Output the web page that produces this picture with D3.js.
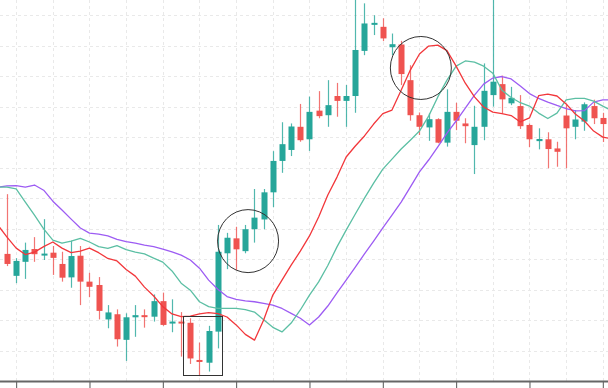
<!DOCTYPE html>
<html>
<head>
<meta charset="utf-8">
<script src="https://cdn.jsdelivr.net/npm/d3@7"></script>
<style>
  body { margin: 0; background: #fff; }
  svg { display: block; }
</style>
</head>
<body>
<div id="chart"></div>
<script>
// candles, one per bar
var open = [41.7, 34.5, 39.1, 43.3, 41.3, 42.1, 38.4, 34.0, 41.1, 32.6,
    31.5, 20.2, 21.9, 13.5, 20.9, 21.6, 21.1, 26.2, 18.9, 19.5,
    19.1, 6.9, 6.0, 16.2, 41.9, 46.8, 42.6, 49.8, 53.0, 61.9,
    72.2, 75.8, 83.4, 79.3, 88.7, 87.2, 93.5, 91.9, 93.5, 108.3,
    117.1, 116.2, 109.5, 110.4, 98.7, 87.2, 83.2, 85.9, 78.2, 88.3,
    84.5, 77.4, 83.4, 93.8, 97.4, 91.1, 90.2, 84.0, 78.7, 79.3,
    76.3, 87.1, 83.4, 85.1, 90.2, 86.3]
var high = [61.3, 40.3, 45.4, 47.2, 53.1, 44.3, 42.4, 46.0, 44.3, 35.5,
    34.1, 24.9, 23.5, 22.2, 24.9, 23.5, 28.4, 29.0, 26.8, 22.6,
    20.6, 12.6, 18.1, 51.2, 48.6, 50.6, 51.2, 63.0, 63.0, 75.4,
    84.9, 84.5, 90.9, 93.3, 95.1, 98.7, 97.8, 97.1, 126.0, 123.9,
    120.0, 119.0, 114.0, 111.6, 103.6, 88.1, 87.8, 86.2, 95.7, 91.3,
    86.2, 90.3, 104.2, 125.0, 100.2, 96.5, 93.8, 84.5, 82.9, 81.6,
    78.5, 90.9, 88.9, 91.4, 92.3, 88.0]
var low = [37.7, 32.1, 33.5, 39.1, 39.7, 34.8, 32.6, 30.6, 24.9, 27.5,
    20.2, 17.3, 11.3, 6.6, 14.5, 17.5, 19.5, 18.1, 16.0, 8.0,
    5.6, 1.6, 3.1, 10.7, 36.7, 36.4, 41.9, 45.4, 49.8, 57.0,
    68.3, 73.8, 78.5, 75.5, 86.2, 83.4, 86.7, 83.4, 88.0, 106.9,
    113.5, 111.5, 106.9, 97.1, 85.4, 80.7, 78.8, 78.0, 76.9, 82.3,
    78.0, 67.9, 79.0, 90.0, 87.8, 90.5, 82.7, 76.7, 76.0, 69.8,
    70.3, 69.8, 79.3, 82.1, 84.3, 78.4]
var close = [38.4, 39.4, 43.0, 41.6, 41.8, 40.4, 33.9, 41.0, 32.6, 30.9,
    23.0, 22.5, 13.7, 20.9, 21.6, 21.1, 26.2, 18.4, 19.5, 18.9,
    7.4, 6.3, 16.4, 42.4, 47.0, 43.2, 49.8, 53.6, 61.9, 72.2,
    77.7, 83.5, 79.0, 88.3, 86.9, 90.5, 91.9, 93.5, 108.6, 117.3,
    117.5, 112.4, 110.5, 100.7, 87.2, 83.4, 85.9, 78.2, 88.3, 85.4,
    83.6, 83.4, 95.2, 98.2, 92.4, 92.9, 83.6, 79.3, 79.4, 76.1,
    75.2, 82.9, 85.8, 90.8, 86.2, 84.3]

// moving averages, bar -1 .. bar 66 (they run off both edges)
var redLine = [51.2, 47.2, 43.6, 41.5, 42.3, 44.1, 45.6, 43.6, 42.1, 42.6,
    43.6, 42.1, 40.2, 39.4, 36.6, 34.4, 30.8, 27.9, 24.4, 22.0,
    21.1, 21.3, 22.0, 22.4, 22.1, 21.0, 18.4, 15.3, 13.4, 20.0,
    28.2, 33.1, 38.0, 42.6, 47.6, 53.8, 61.0, 66.9, 73.5, 77.1,
    80.4, 84.3, 87.7, 88.9, 95.4, 102.0, 107.3, 109.9, 110.2, 108.4,
    103.3, 97.7, 93.2, 89.9, 88.2, 87.7, 87.1, 85.0, 86.3, 93.6,
    94.1, 93.5, 90.9, 87.6, 85.3, 82.0, 80.0, 79.4]
var tealLine = [63.6, 63.6, 63.0, 58.7, 54.4, 49.9, 46.2, 45.2, 45.9, 46.8,
    45.6, 44.1, 43.5, 44.4, 43.1, 42.3, 41.7, 40.3, 39.0, 36.1,
    32.1, 29.8, 26.0, 24.4, 23.8, 23.8, 23.8, 23.4, 22.6, 20.1,
    17.6, 16.1, 19.0, 23.3, 28.2, 32.5, 37.9, 44.0, 49.5, 54.8,
    60.0, 64.9, 69.5, 72.8, 76.1, 79.0, 82.0, 86.9, 93.2, 98.7,
    103.3, 105.0, 104.6, 103.3, 101.0, 95.4, 93.0, 91.3, 90.2, 87.9,
    86.1, 87.9, 92.2, 92.7, 92.7, 91.8, 90.2, 88.6]
var purpleLine = [63.6, 64.0, 64.1, 63.6, 64.3, 62.6, 59.0, 56.1, 53.1, 50.2,
    48.5, 48.2, 47.6, 46.5, 45.7, 45.2, 44.6, 44.1, 43.3, 42.4,
    41.3, 39.7, 37.0, 33.1, 30.1, 27.7, 26.8, 26.3, 26.0, 25.5,
    24.9, 23.8, 22.2, 20.6, 18.4, 21.0, 24.6, 28.9, 33.1, 37.4,
    41.7, 45.9, 50.2, 54.4, 58.7, 63.6, 68.6, 72.5, 76.8, 81.3,
    85.3, 89.5, 93.8, 97.4, 99.4, 99.9, 99.1, 96.8, 94.3, 92.7,
    91.5, 90.4, 89.4, 88.6, 88.7, 91.5, 92.2, 92.2]

// annotations in bar / price units: [bar, price]
var circles = [[26.3, 45.9], [45.15, 102.7]]
var boxes = [[19.2, 23.5, 21.3, 2.0]]  // bar from, bar to, price top, price bottom

var width = 608, height = 388, plotBottom = 381;
var up = "#26a69a", down = "#ef5350";

var svg = d3.select("#chart")
    .append("svg")
    .attr("width", width)
    .attr("height", height);

svg.append("defs").append("clipPath")
    .attr("id", "plot")
    .append("rect")
    .attr("width", width)
    .attr("height", plotBottom);

// bar index -> x
var x = d3.scaleLinear()
    .domain([0, 65])
    .range([7, 602.8]);

// price -> y
var y = d3.scaleLinear()
    .domain([0, 125])
    .range([plotBottom, 0]);

// dashed grid
var grid = svg.append("g")
    .attr("stroke", "#e9e9e9")
    .attr("stroke-dasharray", "3,3");

grid.selectAll("hgrid")
    .data(d3.range(10, 121, 10))
    .enter()
    .append("line")
    .attr("x1", 0)
    .attr("x2", width)
    .attr("y1", function(d) { return Math.round(y(d)) + 0.5; })
    .attr("y2", function(d) { return Math.round(y(d)) + 0.5; })

grid.selectAll("vgrid")
    .data(d3.range(1, 66, 4))
    .enter()
    .append("line")
    .attr("x1", function(d) { return Math.round(x(d)) + 0.5; })
    .attr("x2", function(d) { return Math.round(x(d)) + 0.5; })
    .attr("y1", 0)
    .attr("y2", plotBottom)

var plot = svg.append("g").attr("clip-path", "url(#plot)");

var bars = d3.range(open.length);

// wicks (a touch lighter than the bodies)
plot.selectAll("wick")
    .data(bars)
    .enter()
    .append("line")
    .attr("x1", function(i) { return Math.round(x(i)) + 0.5; })
    .attr("x2", function(i) { return Math.round(x(i)) + 0.5; })
    .attr("y1", function(i) { return y(high[i]); })
    .attr("y2", function(i) { return y(low[i]); })
    .attr("stroke", function(i) { return close[i] >= open[i] ? up : down; })
    .attr("stroke-opacity", 0.8)
    .attr("stroke-width", 1.2)

// bodies
plot.selectAll("body")
    .data(bars)
    .enter()
    .append("rect")
    .attr("x", function(i) { return Math.round(x(i)) - 2.5; })
    .attr("width", 6)
    .attr("y", function(i) { return y(Math.max(open[i], close[i])); })
    .attr("height", function(i) { return Math.max(2, Math.abs(y(open[i]) - y(close[i]))); })
    .attr("fill", function(i) { return close[i] >= open[i] ? up : down; })

// moving averages
var lineGenerator = d3.line()
    .x(function(d, i) { return x(i - 1); })
    .y(function(d) { return y(d); })

var series = [
    {values: purpleLine, color: "#9d5cf3"},
    {values: tealLine, color: "#5cbfa4"},
    {values: redLine, color: "#f2373b"}
]

plot.selectAll("ma")
    .data(series)
    .enter()
    .append("path")
    .attr("d", function(d) { return lineGenerator(d.values); })
    .attr("fill", "none")
    .attr("stroke", function(d) { return d.color; })
    .attr("stroke-width", 1.3)
    .attr("stroke-linejoin", "round")

// circles and box drawn over the chart
svg.selectAll("ring")
    .data(circles)
    .enter()
    .append("ellipse")
    .attr("cx", function(d) { return x(d[0]); })
    .attr("cy", function(d) { return y(d[1]); })
    .attr("rx", 30.5)
    .attr("ry", 31.5)
    .attr("fill", "none")
    .attr("stroke", "#333")
    .attr("stroke-width", 1)

svg.selectAll("box")
    .data(boxes)
    .enter()
    .append("rect")
    .attr("x", function(d) { return Math.round(x(d[0])) + 0.5; })
    .attr("y", function(d) { return Math.round(y(d[2])) + 0.5; })
    .attr("width", function(d) { return Math.round(x(d[1]) - x(d[0])); })
    .attr("height", function(d) { return Math.round(y(d[3]) - y(d[2])); })
    .attr("fill", "none")
    .attr("stroke", "#333")
    .attr("stroke-width", 1)

// bottom axis, ticks only
var axis = svg.append("g")
    .attr("transform", "translate(0," + plotBottom + ")")
    .call(d3.axisBottom(x).tickValues(d3.range(1, 66, 8)).tickFormat("").tickSize(8).tickSizeOuter(0));
axis.select(".domain").remove();
axis.selectAll(".tick line").attr("stroke", "#555");

axis.append("line")
    .attr("x1", 0)
    .attr("x2", width)
    .attr("y1", 0.5)
    .attr("y2", 0.5)
    .attr("stroke", "#666")
    .attr("stroke-width", 2)
</script>
</body>
</html>
